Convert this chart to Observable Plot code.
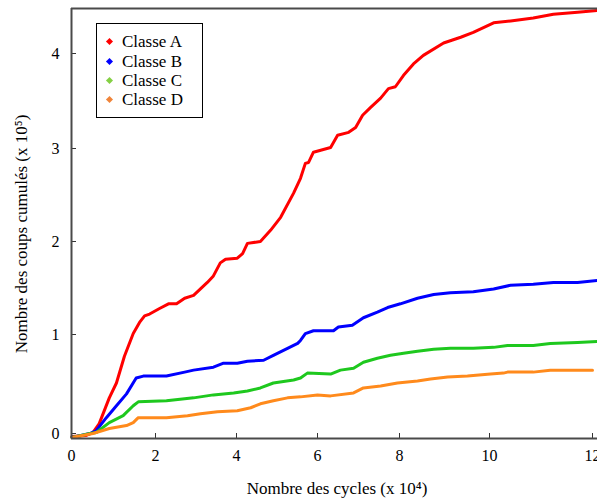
<!DOCTYPE html>
<html><head><meta charset="utf-8">
<script src="https://cdn.jsdelivr.net/npm/d3@7"></script>
<script src="https://cdn.jsdelivr.net/npm/@observablehq/plot@0.6"></script>
<style>
body{margin:0;background:#fff;}
#wrap{position:relative;width:597px;height:499px;overflow:hidden;font-family:"Liberation Serif","Times New Roman",serif;}
#legend{position:absolute;left:96px;top:23px;width:107px;height:95px;border:1px solid #000;background:#fff;box-sizing:border-box;}
.row{position:absolute;left:0;height:20px;line-height:20px;font-size:17px;color:#000;white-space:nowrap;}
.mk{position:absolute;left:10px;top:7px;width:5px;height:5px;transform:rotate(45deg);}
.lb{position:absolute;left:25px;top:0;}
</style>
</head><body>
<div id="wrap"></div>
<script>
// ---- data (x: cycles ×10^4, y: cumulated hits ×10^5) ----
const seriesNames = ["Classe A", "Classe B", "Classe C", "Classe D"];
const lineColors = ["#ff0000", "#0000ff", "#1ec81e", "#ff8a1c"];
const legendColors = ["#ff0000", "#0000ff", "#84d044", "#f0843a"];

const classA_x = [0.01,0.35,0.51,0.66,0.90,1.07,1.26,1.47,1.62,1.74,1.86,2.10,2.32,2.52,2.72,2.94,3.11,3.28,3.43,3.60,3.73,4.02,4.15,4.27,4.59,4.84,5.09,5.41,5.58,5.70,5.78,5.90,6.32,6.49,6.76,6.93,7.10,7.29,7.54,7.73,7.90,8.09,8.31,8.53,8.98,9.36,9.64,10.08,10.41,10.85,11.24,11.71,12.10];
const classA_y = [-0.03,-0.02,0.01,0.10,0.36,0.51,0.78,1.01,1.13,1.20,1.22,1.28,1.33,1.33,1.39,1.42,1.49,1.56,1.63,1.77,1.81,1.82,1.87,1.98,2.00,2.12,2.26,2.52,2.68,2.84,2.85,2.96,3.01,3.14,3.17,3.22,3.35,3.43,3.53,3.63,3.65,3.77,3.89,3.98,4.11,4.17,4.22,4.32,4.34,4.37,4.41,4.43,4.45];

const classB_x = [0.01,0.44,0.59,0.83,1.07,1.31,1.54,1.71,2.27,2.72,2.94,3.43,3.68,4.02,4.27,4.67,4.91,5.26,5.51,5.58,5.70,5.90,6.39,6.51,6.85,7.12,7.46,7.71,8.02,8.40,8.76,9.13,9.64,10.08,10.41,10.85,11.24,11.71,12.10];
const classB_y = [-0.04,0.00,0.03,0.16,0.28,0.40,0.56,0.58,0.58,0.62,0.64,0.67,0.71,0.71,0.73,0.74,0.79,0.86,0.91,0.94,1.01,1.04,1.04,1.08,1.10,1.18,1.24,1.29,1.33,1.39,1.43,1.45,1.46,1.49,1.53,1.54,1.56,1.56,1.58];

const classC_x = [0.01,0.44,0.59,0.90,1.23,1.47,1.59,2.27,2.72,2.94,3.43,3.93,4.27,4.59,4.91,5.41,5.58,5.75,6.32,6.56,6.88,7.12,7.46,7.78,8.09,8.40,8.76,9.13,9.64,10.08,10.35,10.85,11.18,11.71,12.10];
const classC_y = [-0.04,0.00,0.01,0.11,0.18,0.28,0.32,0.33,0.35,0.36,0.39,0.41,0.43,0.46,0.51,0.54,0.56,0.61,0.60,0.64,0.66,0.72,0.76,0.79,0.81,0.83,0.85,0.86,0.86,0.87,0.89,0.89,0.91,0.92,0.93];

const classD_x = [0.01,0.51,0.90,1.31,1.47,1.59,2.27,2.79,3.11,3.53,4.02,4.35,4.59,4.91,5.26,5.58,6.00,6.32,6.88,7.12,7.54,7.95,8.40,8.69,9.07,9.51,10.02,10.27,10.35,10.85,11.18,11.63,12.00];
const classD_y = [-0.04,0.00,0.05,0.08,0.11,0.16,0.16,0.18,0.20,0.22,0.23,0.26,0.30,0.33,0.36,0.37,0.39,0.38,0.41,0.46,0.48,0.51,0.53,0.55,0.57,0.58,0.60,0.61,0.62,0.62,0.64,0.64,0.64];

const xTicks = [0, 2, 4, 6, 8, 10, 12];
const yTicks = [0, 1, 2, 3, 4];
const xLabel = "Nombre des cycles (x 10⁴)";
const yLabel = "Nombre des coups cumulés (x 10⁵)";

// ---- build table ----
const xs = [classA_x, classB_x, classC_x, classD_x];
const ys = [classA_y, classB_y, classC_y, classD_y];
const rows = [];
seriesNames.forEach((s, i) => xs[i].forEach((x, j) => rows.push({series: s, x, y: ys[i][j]})));

const W = 597, H = 499, mL = 71, mT = 8, mB = 61;
const xMin = 0, xMax = 12.1, yMin = -0.05, yMax = 4.47;

// The original figure's axes are slightly uneven: map data through a piecewise
// calibration (tick value -> axis position) before the linear position scale.
const xCal = d3.scaleLinear().domain([xMin, 2, 4, 6, 8, 10, 12, xMax]).range([0, 84, 165, 246, 328, 418, 521, 526]);
const yCal = d3.scaleLinear().domain([yMin, 0, 1, 2, 3, 4, yMax]).range([0, 5, 104, 197, 290, 385, 430]);

const chart = Plot.plot({
  width: W, height: H,
  marginLeft: mL, marginRight: 0, marginTop: mT, marginBottom: mB,
  style: {fontFamily: '"Liberation Serif","Times New Roman",serif', fontSize: "16px", color: "#000", background: "#fff"},
  x: {transform: xCal, domain: [0, 526]},
  y: {transform: yCal, domain: [0, 430]},
  color: {domain: seriesNames, range: lineColors},
  marks: [
    Plot.lineY(rows, {x: "x", y: "y", stroke: "series", z: "series", strokeWidth: 3, strokeLinejoin: "round"}),
    Plot.axisX(xTicks, {tickSize: -5, tickPadding: 16, stroke: "#333", fill: "#000", label: null, fontSize: 16}),
    Plot.axisY(yTicks, {tickSize: -5, tickPadding: 17, stroke: "#333", fill: "#000", label: null, fontSize: 16}),
    Plot.ruleY([yMin], {stroke: "#4a4a4a", strokeWidth: 2}),
    Plot.ruleY([yMax], {stroke: "#4a4a4a", strokeWidth: 2}),
    Plot.ruleX([xMin], {stroke: "#4a4a4a", strokeWidth: 2})
  ]
});

const wrap = document.getElementById("wrap");
wrap.appendChild(chart);
const svg = d3.select(chart);
svg.append("text").attr("x", 337).attr("y", 494).attr("text-anchor", "middle")
  .attr("font-size", 17).attr("fill", "#000").text(xLabel);
svg.append("text").attr("transform", "translate(27,234) rotate(-90)").attr("text-anchor", "middle")
  .attr("font-size", 17).attr("fill", "#000").text(yLabel);

// legend
const leg = document.createElement("div");
leg.id = "legend";
const rowTops = [8, 28, 47, 66];
seriesNames.forEach((s, i) => {
  const r = document.createElement("div");
  r.className = "row";
  r.style.top = rowTops[i] + "px";
  r.innerHTML = `<span class="mk" style="background:${legendColors[i]}"></span><span class="lb">${s}</span>`;
  leg.appendChild(r);
});
wrap.appendChild(leg);
</script>
</body></html>
